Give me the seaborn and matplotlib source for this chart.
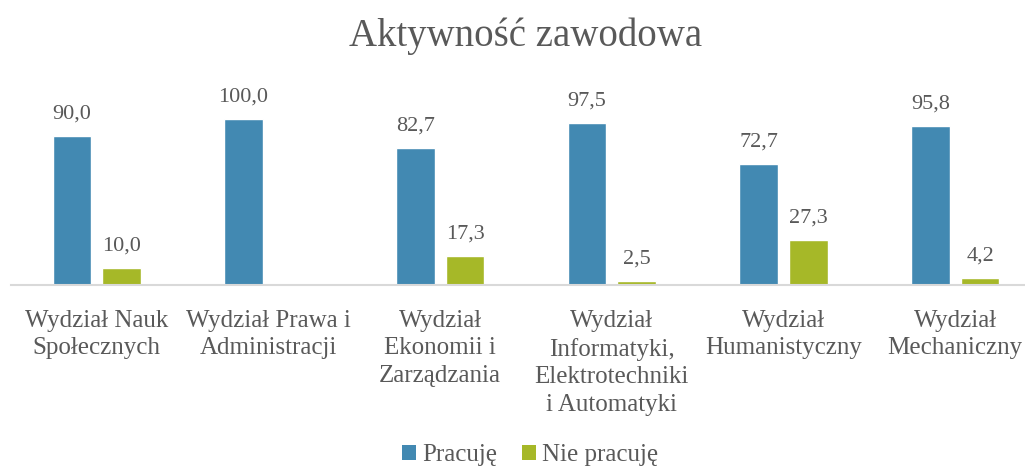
import matplotlib
matplotlib.use("Agg")
import matplotlib.pyplot as plt
import seaborn as sns
import pandas as pd
from matplotlib.patches import Patch

categories = [
    "Wydział Nauk\nSpołecznych",
    "Wydział Prawa i\nAdministracji",
    "Wydział\nEkonomii i\nZarządzania",
    "Wydział\nInformatyki,\nElektrotechniki\ni Automatyki",
    "Wydział\nHumanistyczny",
    "Wydział\nMechaniczny",
]
series_names = ["Pracuję", "Nie pracuję"]
pracuje = [90.0, 100.0, 82.7, 97.5, 72.7, 95.8]
nie_pracuje = [10.0, 0.0, 17.3, 2.5, 27.3, 4.2]
title = "Aktywność zawodowa"

colors = ["#4289B2", "#A6B828"]
text_color = "#595959"

sns.set_theme(style="white")
plt.rcParams["font.family"] = ["Liberation Serif", "DejaVu Serif"]

df = pd.DataFrame({
    "cat": categories * 2,
    "series": [series_names[0]] * len(categories) + [series_names[1]] * len(categories),
    "val": pracuje + nie_pracuje,
})

fig = plt.figure(figsize=(10.25, 4.68), dpi=100)
ax = fig.add_axes([11 / 1025, 0.391, 1030 / 1025, 0.390])

sns.barplot(data=df, x="cat", y="val", hue="series", order=categories,
            hue_order=series_names, palette=colors, width=0.58, gap=0.22,
            saturation=1, legend=False, ax=ax)

for cont, vals in zip(ax.containers, [pracuje, nie_pracuje]):
    labels = [("%.1f" % v).replace(".", ",") if v > 0 else "" for v in vals]
    ax.bar_label(cont, labels=labels, padding=9, fontsize=16, color=text_color)

ax.set_ylim(0, 110)
ax.set_xlim(-0.5, len(categories) - 0.5)
ax.set_xlabel("")
ax.set_ylabel("")
ax.set_yticks([])
ax.tick_params(axis="x", length=0, pad=18, labelsize=18, labelcolor=text_color)
for lbl in ax.get_xticklabels():
    lbl.set_verticalalignment("top")
    lbl.set_linespacing(1.32)
for s in ["top", "right", "left"]:
    ax.spines[s].set_visible(False)
ax.spines["bottom"].set_color("#D9D9D9")
ax.spines["bottom"].set_linewidth(1.5)

ax.set_title(title, fontsize=28, color=text_color, pad=41)

handles = [Patch(facecolor=c, edgecolor="none") for c in colors]
fig.legend(handles, series_names, loc="center", bbox_to_anchor=(530 / 1025, 1 - 455 / 468),
           ncol=2, frameon=False, fontsize=18, labelcolor=text_color,
           handlelength=0.55, handleheight=0.55, handletextpad=0.25, columnspacing=1.0)

fig.savefig("out.png", dpi=100)
